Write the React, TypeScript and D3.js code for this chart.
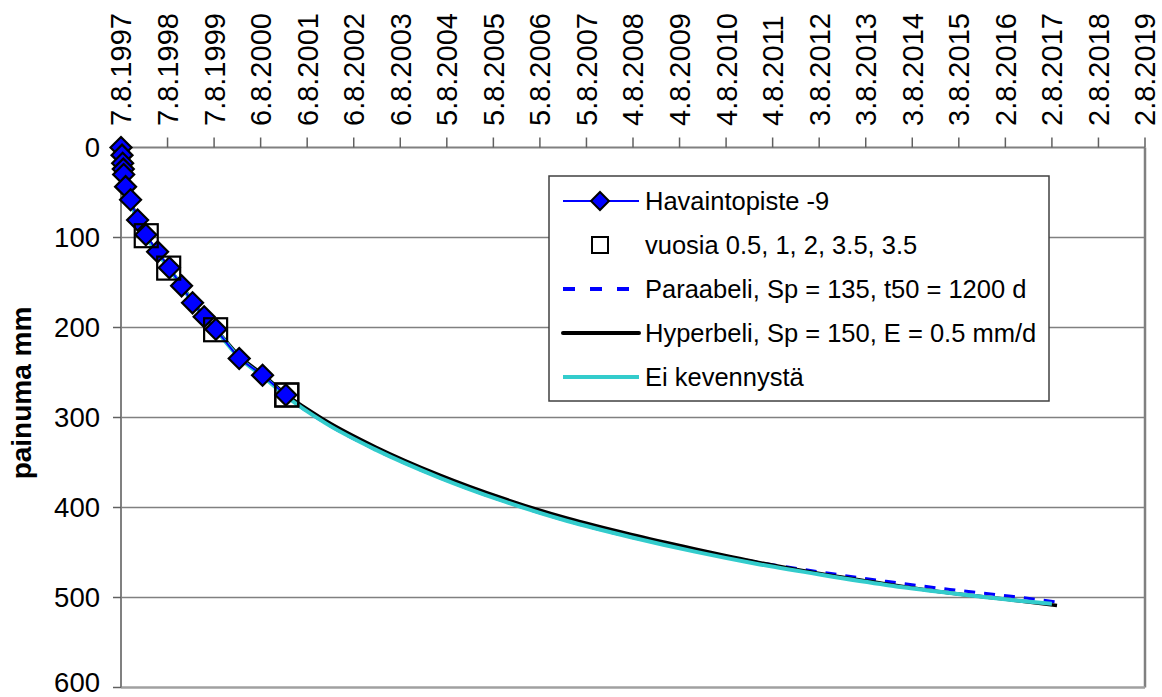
import React from "react";
import * as d3 from "d3";

// Top axis tick labels (one every 365 days from 7.8.1997)
const tickLabels = [
  "7.8.1997", "7.8.1998", "7.8.1999", "6.8.2000", "6.8.2001", "6.8.2002",
  "6.8.2003", "5.8.2004", "5.8.2005", "5.8.2006", "5.8.2007", "4.8.2008",
  "4.8.2009", "4.8.2010", "4.8.2011", "3.8.2012", "3.8.2013", "3.8.2014",
  "3.8.2015", "2.8.2016", "2.8.2017", "2.8.2018", "2.8.2019",
];
const yTicks = [0, 100, 200, 300, 400, 500, 600];

// Havaintopiste -9 (days since 7.8.1997, settlement mm)
const obsDays = [0, 8, 13, 18, 21, 36, 75, 130, 195, 287, 379, 475, 561, 652, 744, 927, 1110, 1293];
const obsValues = [0, 8.5, 17.5, 24, 30, 43.5, 58, 80.5, 97, 115.8, 133.6, 153.7, 172.6, 188, 202, 234.5, 253, 275];

// vuosia 0.5, 1, 2, 3.5, 3.5
const yearDays = [198, 374, 742, 1300, 1300];
const yearValues = [98, 134, 202.5, 275, 275];

// Fitted curves
const curveDays = [0, 30, 75, 130, 200, 290, 380, 480, 560, 650, 745, 930, 1110, 1300, 1600, 2000, 2500, 3000, 3500, 4000, 4500, 5000, 5500, 6000, 6500, 7000, 7340];
const eiDays = [0, 30, 75, 130, 200, 290, 380, 480, 560, 650, 745, 930, 1110, 1300, 1600, 2000, 2500, 3000, 3500, 4000, 4500, 5000, 5500, 6000, 6500, 7000, 7300];
const paraValues = [0, 38, 60, 82, 100, 118, 135, 155, 172, 188, 203, 234, 254, 277, 306, 336, 367, 393, 415, 433, 448, 461, 472, 482, 491, 499, 505];
const hyperValues = [0, 36, 58, 80, 99, 117, 135, 154, 171, 187, 202, 232, 252, 275, 303, 333, 364, 390, 412, 430, 446, 461, 474, 485, 495, 503, 509];
const eiValues = [0, 38, 60, 82, 100, 118, 135, 155, 172, 188, 203, 234, 254, 277, 306, 336, 367, 393, 415, 433, 449, 463, 475, 486, 495, 503, 507];

const legendLabels = [
  "Havaintopiste -9",
  "vuosia 0.5, 1, 2, 3.5, 3.5",
  "Paraabeli, Sp = 135, t50 = 1200 d",
  "Hyperbeli, Sp = 150, E = 0.5 mm/d",
  "Ei kevennystä",
];

const W = 1162;
const H = 697;
const left = 121;
const right = 1145;
const top = 147.5;
const bottom = 687.5;
const FONT = "Arial, 'Liberation Sans', sans-serif";

export default function App() {
  const x = d3.scaleLinear().domain([0, 365 * 22]).range([left, right]);
  const y = d3.scaleLinear().domain([0, 600]).range([top, bottom]);

  const mk = (days: number[], vals: number[]) =>
    d3.line<number>().x((_, i) => x(days[i])).y((v) => y(v)).curve(d3.curveMonotoneX)(vals) || "";
  const obsLine =
    d3.line<number>().x((_, i) => x(obsDays[i])).y((v) => y(v))(obsValues) || "";

  const diamond = (cx: number, cy: number, r: number) =>
    `M${cx},${cy - r}L${cx + r},${cy}L${cx},${cy + r}L${cx - r},${cy}Z`;

  const lx = 549, ly = 176, lw = 500, lh = 225;
  const rowY = (i: number) => 201 + i * 44;
  const s0 = 563, s1 = 639, sm = 600, tx = 645;

  return (
    <svg width={W} height={H} style={{ position: "absolute", left: 0, top: 0, background: "#fff" }}>
      <rect x={0} y={0} width={W} height={H} fill="#fff" />
      {/* gridlines */}
      {yTicks.slice(1, -1).map((t) => (
        <line key={t} x1={left} x2={right} y1={y(t)} y2={y(t)} stroke="#808080" strokeWidth={1.5} />
      ))}
      {/* frame */}
      <line x1={right} x2={right} y1={top} y2={bottom} stroke="#808080" strokeWidth={2.5} />
      <line x1={left} x2={right} y1={bottom} y2={bottom} stroke="#a0a0a0" strokeWidth={2.5} />
      <line x1={left} x2={right} y1={top} y2={top} stroke="#808080" strokeWidth={2} />
      <line x1={left} x2={left} y1={top} y2={bottom} stroke="#808080" strokeWidth={2} />
      {/* y ticks */}
      {yTicks.map((t) => (
        <g key={t}>
          <line x1={left - 8} x2={left} y1={y(t)} y2={y(t)} stroke="#606060" strokeWidth={1.5} />
          <text x={100} y={Math.min(y(t), 683)} dy="0.34em" textAnchor="end" fontFamily={FONT} fontSize={27.5} fill="#000">
            {t}
          </text>
        </g>
      ))}
      {/* x ticks top */}
      {tickLabels.map((lab, i) => (
        <g key={lab}>
          <line x1={x(i * 365)} x2={x(i * 365)} y1={top - 10} y2={top} stroke="#606060" strokeWidth={1.5} />
          <text
            transform={`translate(${x(i * 365)},${126}) rotate(-90)`}
            dy="0.36em"
            textAnchor="start"
            fontFamily={FONT}
            fontSize={29}
            fill="#000"
          >
            {lab}
          </text>
        </g>
      ))}
      {/* y title */}
      <text
        transform={`translate(${31},${393}) rotate(-90)`}
        textAnchor="middle"
        fontFamily={FONT}
        fontSize={28}
        fontWeight="bold"
        fill="#000"
      >
        painuma mm
      </text>

      {/* curves */}
      <path d={mk(curveDays, paraValues)} fill="none" stroke="#0000ff" strokeWidth={3} strokeDasharray="11,9" />
      <path d={mk(curveDays, hyperValues)} fill="none" stroke="#000" strokeWidth={3.5} />
      <path d={mk(eiDays, eiValues)} fill="none" stroke="#33cccc" strokeWidth={4} />

      {/* observation series */}
      <path d={obsLine} fill="none" stroke="#0000ff" strokeWidth={2} />
      {obsValues.map((v, i) => (
        <path key={i} d={diamond(x(obsDays[i]), y(v), 10.5)} fill="#0000ff" stroke="#000" strokeWidth={2.2} />
      ))}
      {/* year squares */}
      {yearValues.map((v, i) => (
        <rect
          key={i}
          x={x(yearDays[i]) - 11.5}
          y={y(v) - 11.5}
          width={23}
          height={23}
          fill="none"
          stroke="#000"
          strokeWidth={2.2}
        />
      ))}

      {/* legend */}
      <rect x={lx} y={ly} width={lw} height={lh} fill="#fff" stroke="#404040" strokeWidth={1.5} />
      <line x1={s0} x2={s1} y1={rowY(0)} y2={rowY(0)} stroke="#0000ff" strokeWidth={2} />
      <path d={diamond(sm, rowY(0), 9)} fill="#0000ff" stroke="#000" strokeWidth={2} />
      <rect x={sm - 8} y={rowY(1) - 8} width={16} height={16} fill="none" stroke="#000" strokeWidth={2} />
      <line x1={s0} x2={s1} y1={rowY(2)} y2={rowY(2)} stroke="#0000ff" strokeWidth={4} strokeDasharray="12,15" />
      <line x1={s0} x2={s1} y1={rowY(3)} y2={rowY(3)} stroke="#000" strokeWidth={4} strokeLinecap="round" />
      <line x1={s0} x2={s1} y1={rowY(4)} y2={rowY(4)} stroke="#33cccc" strokeWidth={4} />
      {legendLabels.map((lab, i) => (
        <text key={lab} x={tx} y={rowY(i)} dy="0.36em" fontFamily={FONT} fontSize={25.5} fill="#000">
          {lab}
        </text>
      ))}
    </svg>
  );
}
